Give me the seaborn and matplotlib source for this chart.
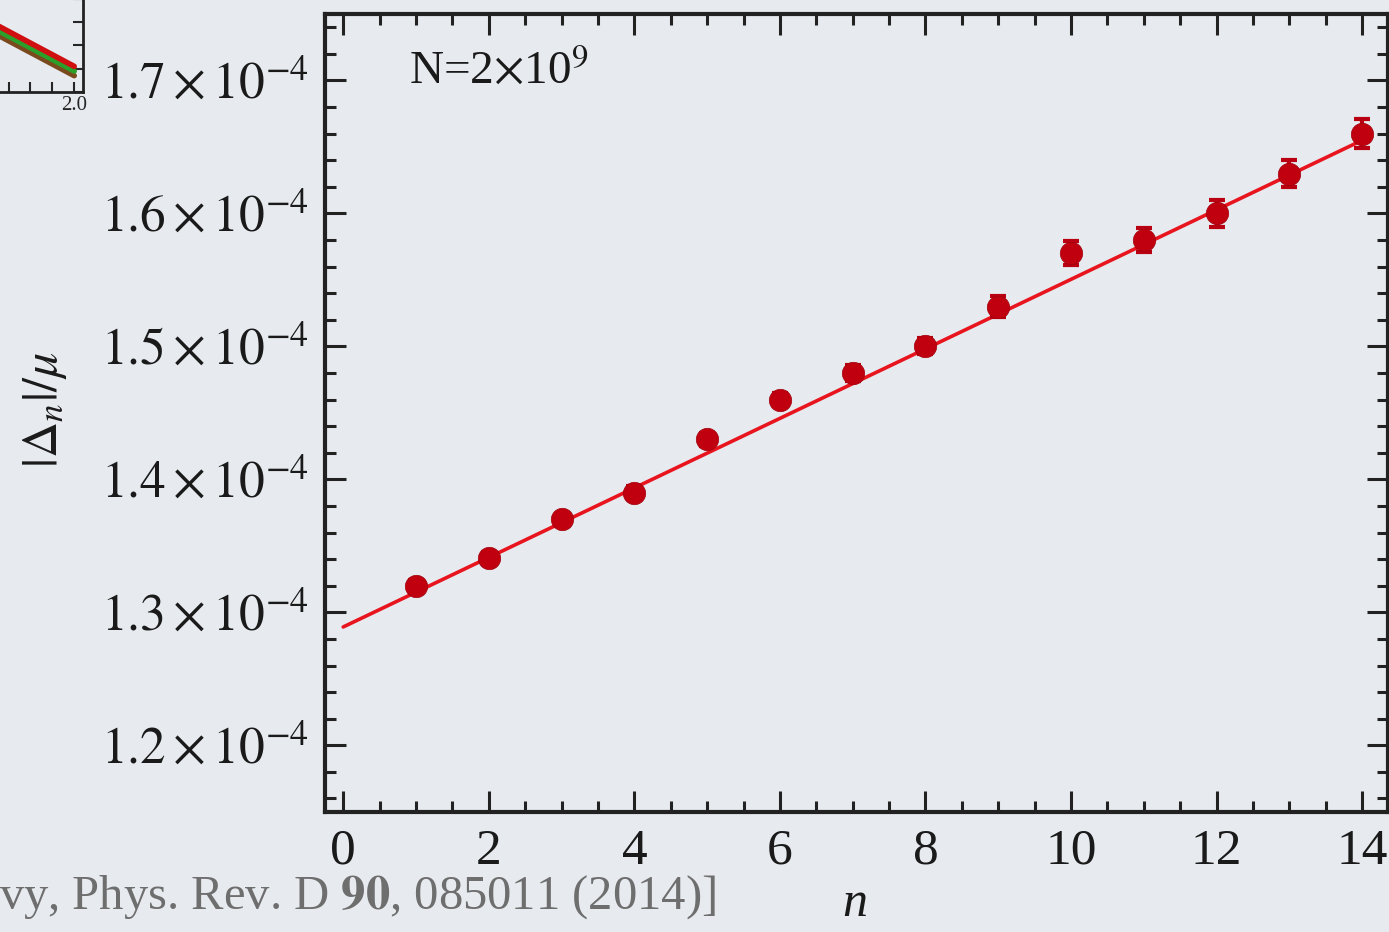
import matplotlib
matplotlib.use('Agg')
import matplotlib.pyplot as plt
from matplotlib.ticker import MultipleLocator, FuncFormatter
import numpy as np
import pandas as pd
import seaborn as sns

# data (values in units of 1e-4)
n_vals = [1, 2, 3, 4, 5, 6, 7, 8, 9, 10, 11, 12, 13, 14]
delta_vals = [1.320, 1.341, 1.370, 1.390, 1.430, 1.460, 1.480, 1.500,
              1.530, 1.570, 1.580, 1.600, 1.630, 1.660]
delta_err = [0.004, 0.004, 0.004, 0.005, 0.005, 0.005, 0.006, 0.006,
             0.008, 0.009, 0.009, 0.010, 0.010, 0.011]
fit_n = [0, 14]
fit_vals = [1.289, 1.655]

# fragment of the neighbouring panel (top-left corner)
inset_x = [1.0, 1.5, 2.0]
inset_red = [1.20, 1.08, 0.955]
inset_green = [1.19, 1.07, 0.945]
inset_brown = [1.18, 1.06, 0.935]

sns.set_theme(style='ticks')
plt.rcParams['font.family'] = ['Liberation Serif', 'DejaVu Serif']
plt.rcParams['mathtext.fontset'] = 'stix'

bg = '#e7ebef'
fig = plt.figure(figsize=(13.89, 9.32), dpi=100, facecolor=bg)
ax = fig.add_axes([0.234, 0.129, 0.765, 0.856])
ax.set_facecolor(bg)

df = pd.DataFrame({'n': n_vals, 'val': np.array(delta_vals) * 1e-4,
                   'err': np.array(delta_err) * 1e-4})
fit = pd.DataFrame({'n': fit_n, 'val': np.array(fit_vals) * 1e-4})

sns.lineplot(data=fit, x='n', y='val', color='#e8141e', lw=2.6, ax=ax)
ax.errorbar(df['n'], df['val'], yerr=df['err'], fmt='none',
            ecolor='#b80012', elinewidth=3, capsize=6, capthick=3, zorder=3)
sns.scatterplot(data=df, x='n', y='val', color='#c0000f', s=260,
                edgecolor='#a0000c', linewidth=0.5, ax=ax, zorder=4)

ax.set_xlim(-0.25, 14.35)
ax.set_ylim(1.15e-4, 1.75e-4)
ax.xaxis.set_major_locator(MultipleLocator(2))
ax.xaxis.set_minor_locator(MultipleLocator(0.5))
ax.yaxis.set_major_locator(MultipleLocator(0.1e-4))
ax.yaxis.set_minor_locator(MultipleLocator(0.02e-4))
ax.yaxis.set_major_formatter(
    FuncFormatter(lambda v, p: r'$%.1f\times10^{-4}$' % (v * 1e4)))
ax.tick_params(which='both', direction='in', top=True, right=True,
               width=2.2, color='#222222', labelsize=37, labelcolor='#1a1a1a')
ax.tick_params(which='major', length=15, pad=12)
ax.tick_params(which='minor', length=8)
for s in ax.spines.values():
    s.set_linewidth(3)
    s.set_color('#222222')
ax.set_xlabel('')
ax.set_ylabel('')

ax.text(0.079, 0.955, r'N=2$\times$10$^{9}$', transform=ax.transAxes,
        fontsize=34, color='#1a1a1a', va='top', ha='left')

fig.text(45 / 1389, 1 - 410 / 932, r'$|\Delta_n|/\mu$', rotation=90,
         fontsize=36, ha='center', va='center', color='#1a1a1a')
fig.text(855 / 1389, 1 - 904 / 932, 'n', fontstyle='italic',
         fontsize=36, ha='center', va='center', color='#1a1a1a')
fig.text(716 / 1389, 1 - 897 / 932,
         r'vy, Phys. Rev. D $\mathbf{90}$, 085011 (2014)]',
         fontsize=35, ha='right', va='center', color='#6e6e6e')

# partial neighbour panel
ins = fig.add_axes([-0.12, 1 - 92 / 932, 0.12 + 83 / 1389, 0.2])
ins.set_facecolor(bg)
for yy, c in [(inset_brown, '#7a4a1e'), (inset_green, '#2aa02a'),
              (inset_red, '#d01010')]:
    sns.lineplot(x=inset_x, y=yy, color=c, lw=4, ax=ins)
ins.set_xlim(0.9, 2.04)
ins.set_ylim(0.9, 1.3)
ins.xaxis.set_minor_locator(MultipleLocator(0.1))
ins.set_xticks([2.0])
ins.set_xticklabels(['2.0'])
ins.yaxis.set_major_locator(MultipleLocator(0.05))
ins.tick_params(which='both', direction='in', right=True, left=False,
                labelleft=False, labelsize=15, width=1.5, length=7, pad=3)
for s in ins.spines.values():
    s.set_linewidth(2)
    s.set_color('#222222')

fig.savefig('out.png', dpi=100, facecolor=bg)
